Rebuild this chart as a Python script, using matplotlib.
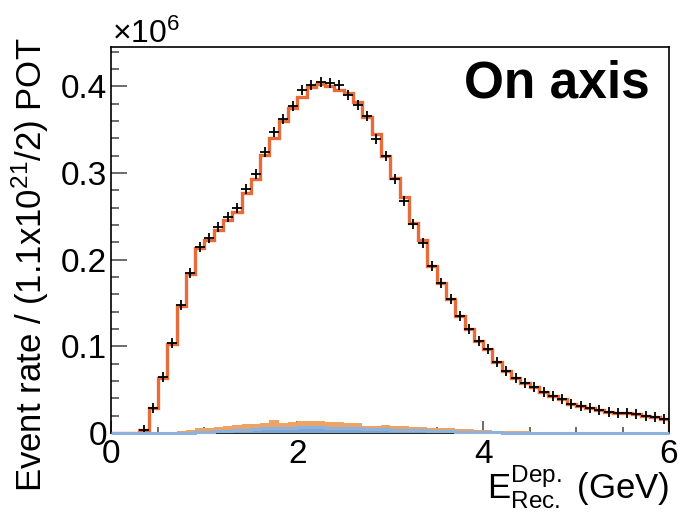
import numpy as np
import matplotlib
matplotlib.use('Agg')
import matplotlib.pyplot as plt
from matplotlib.ticker import MultipleLocator, FuncFormatter

plt.rcParams['font.family'] = ['Liberation Sans', 'DejaVu Sans']
plt.rcParams['mathtext.fontset'] = 'custom'
plt.rcParams['mathtext.rm'] = 'Liberation Sans'
plt.rcParams['mathtext.it'] = 'Liberation Sans:italic'
plt.rcParams['mathtext.bf'] = 'Liberation Sans:bold'

# bin edges in GeV (0.1 GeV bins)
edges = np.linspace(0, 6, 61)
centers = 0.5 * (edges[:-1] + edges[1:])

# data points (x10^6)
data = [0, 0, 0, 0.004, 0.029, 0.065, 0.104, 0.148, 0.185, 0.215,
        0.2245, 0.238, 0.249, 0.259, 0.281, 0.299, 0.3245, 0.3475, 0.362, 0.377,
        0.396, 0.401, 0.405, 0.404, 0.401, 0.390, 0.378, 0.366, 0.339, 0.3195,
        0.293, 0.2675, 0.2407, 0.2195, 0.1926, 0.1727, 0.154, 0.135, 0.120, 0.1065,
        0.0965, 0.082, 0.072, 0.064, 0.058, 0.0527, 0.0477, 0.043, 0.039, 0.034,
        0.031, 0.0285, 0.0265, 0.0246, 0.0227, 0.0227, 0.022, 0.0192, 0.018, 0.0165]

# prediction histogram (x10^6)
mc = [0, 0, 0, 0.004, 0.029, 0.064, 0.103, 0.146, 0.183, 0.213,
      0.2226, 0.234, 0.2457, 0.255, 0.277, 0.2926, 0.3206, 0.340, 0.360, 0.3745,
      0.388, 0.3995, 0.4025, 0.400, 0.3956, 0.3925, 0.382, 0.365, 0.345, 0.319,
      0.294, 0.2725, 0.242, 0.2226, 0.1926, 0.1727, 0.154, 0.135, 0.120, 0.1065,
      0.0965, 0.082, 0.072, 0.064, 0.058, 0.0527, 0.0477, 0.043, 0.039, 0.034,
      0.031, 0.0285, 0.0265, 0.0246, 0.0227, 0.0227, 0.022, 0.0192, 0.018, 0.0165]

# background stack: lower (blue) component and total of the stack (x10^6)
bkg_blue = [0, 0, 0, 0, 0, 0, 0, 0, 0.0003, 0.0008,
            0.0013, 0.0019, 0.0025, 0.0032, 0.0038, 0.0045, 0.0052, 0.0058, 0.0060, 0.0062,
            0.0064, 0.0065, 0.0065, 0.0063, 0.0061, 0.0058, 0.0054, 0.0048, 0.0045, 0.0042,
            0.0040, 0.0036, 0.0032, 0.0029, 0.0026, 0.0023, 0.0020, 0.0017, 0.0014, 0.0011,
            0.0009, 0.0007, 0.0005, 0.0004, 0.0003, 0.0002, 0.0001, 0.0001, 0.0001, 0.0001,
            0.0001, 0.0001, 0.0001, 0, 0, 0, 0, 0, 0, 0]
bkg_total = [0, 0, 0, 0, 0, 0.0005, 0.0015, 0.0028, 0.0040, 0.0052,
             0.0063, 0.0072, 0.0081, 0.0090, 0.0098, 0.0106, 0.0114, 0.0145, 0.0120, 0.0125,
             0.0135, 0.0136, 0.0133, 0.0128, 0.0124, 0.0118, 0.0110, 0.0080, 0.0082, 0.0090,
             0.0085, 0.0075, 0.0068, 0.0065, 0.0062, 0.0058, 0.0055, 0.0048, 0.0042, 0.0036,
             0.0030, 0.0027, 0.0025, 0.0022, 0.0018, 0.0014, 0.0010, 0.0008, 0.0007, 0.0006,
             0.0005, 0.0005, 0.0004, 0.0004, 0.0003, 0.0003, 0.0003, 0.0003, 0.0002, 0.0002]

fig = plt.figure(figsize=(6.81, 5.17), dpi=100)
ax = fig.add_axes([0.1637, 0.1625, 0.8187, 0.7475])

ax.stairs(mc, edges, color='#e86c3a', lw=2.4, zorder=2)
ax.stairs(bkg_total, edges, baseline=bkg_blue, fill=True, color='#eba468', lw=0, zorder=3)
ax.stairs(bkg_blue, edges, fill=True, color='#7ba5d6', lw=0, zorder=4)
ax.stairs(bkg_blue, edges, color='#8fb2dc', lw=2.2, zorder=6, clip_on=False)

d = np.array(data)
m = d > 0
ax.plot(centers[m], d[m], ls='none', marker='+', ms=6.5, mew=1.3, color='black', zorder=5)

ax.set_xlim(0, 6)
ax.set_ylim(0, 0.4458)
ax.xaxis.set_major_locator(MultipleLocator(2))
ax.xaxis.set_minor_locator(MultipleLocator(0.5))
ax.yaxis.set_major_locator(MultipleLocator(0.1))
ax.yaxis.set_minor_locator(MultipleLocator(0.02))
ax.xaxis.set_major_formatter(FuncFormatter(lambda v, p: f'{v:.0f}'))
ax.yaxis.set_major_formatter(FuncFormatter(lambda v, p: '0' if abs(v) < 1e-9 else f'{v:.1f}'))

ax.tick_params(axis='both', which='both', direction='in', color='#444444', width=1.1,
               labelsize=24, top=False, right=False)
ax.tick_params(axis='y', which='major', length=11.5, pad=3)
ax.tick_params(axis='y', which='minor', length=5.8)
ax.tick_params(axis='x', which='major', length=8.6, pad=4)
ax.tick_params(axis='x', which='minor', length=4.3)
for s in ax.spines.values():
    s.set_linewidth(1.2)

fig.text(112 / 681, 1 - 43 / 517, r'$\times\mathregular{10^{6}}$', fontsize=23,
         ha='left', va='baseline')
fig.text(650 / 681, 1 - 97 / 517, 'On axis', fontsize=37, weight='bold',
         ha='right', va='baseline')
fig.text(30 / 681, 1 - 265 / 517,
         r'Event rate / (1.1x10$\mathregular{^{21}}$/2) POT',
         fontsize=25, rotation=90, ha='center', va='center')
fig.text(669 / 681, 1 - 499 / 517, r'$\mathregular{E^{Dep.}_{Rec.}}$ (GeV)',
         fontsize=25, ha='right', va='baseline')

fig.savefig('out.png', dpi=100)
